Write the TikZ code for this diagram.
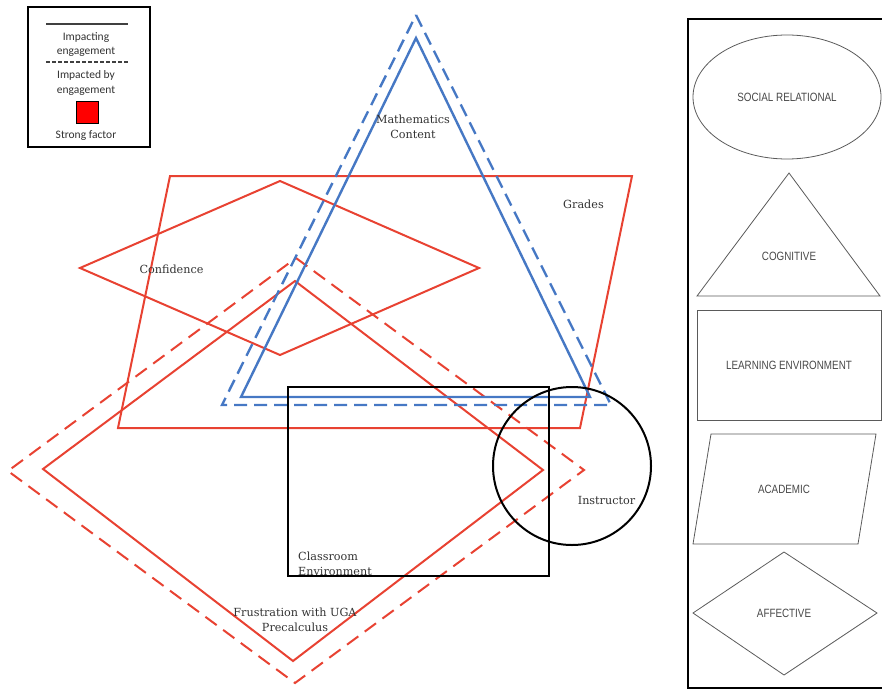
\documentclass[tikz,border=0pt]{standalone}
\usepackage{fontspec}
\setmainfont{DejaVu Serif}
\newfontfamily\legfont{Carlito}
\newfontfamily\panelfont[FakeStretch=0.82]{Liberation Sans}
\definecolor{fred}{RGB}{232,66,50}
\definecolor{fblue}{RGB}{70,120,196}
\definecolor{txtgray}{RGB}{50,50,50}
\definecolor{panelgray}{RGB}{90,90,90}
\tikzset{
  redsolid/.style={draw=fred, line width=2pt, line join=miter},
  reddash/.style={draw=fred, line width=2pt, dash pattern=on 14pt off 8pt},
  bluesolid/.style={draw=fblue, line width=2.4pt},
  bluedash/.style={draw=fblue, line width=2.4pt, dash pattern=on 13pt off 7pt},
  blacksolid/.style={draw=black, line width=2pt},
  lab/.style={text=txtgray, font=\fontsize{11.2}{15}\selectfont, align=center, inner sep=0pt},
  leg/.style={text=txtgray, font=\legfont\fontsize{11.5}{14.5}\selectfont, align=center, inner sep=0pt},
  pshape/.style={draw=panelgray, line width=0.8pt},
  ptext/.style={text=black!72, font=\panelfont\fontsize{12}{13}\selectfont, inner sep=0pt}
}
\begin{document}
\begin{tikzpicture}[x=1pt,y=-1pt]
\useasboundingbox (0,0) rectangle (882,690);
% Grades parallelogram
\draw[redsolid] (170,176) -- (632,176) -- (580,428) -- (118,428) -- cycle;
% Confidence diamond
\draw[redsolid] (80,268) -- (280,181) -- (479,268) -- (280,355) -- cycle;
% Frustration diamonds
\draw[redsolid] (295,281) -- (543,470) -- (293,661) -- (43,469) -- cycle;
\draw[reddash] (296,258) -- (584,470) -- (295,683) -- (8,471) -- cycle;
% Mathematics content triangles
\draw[bluesolid] (416,38) -- (590,397) -- (241,397) -- cycle;
\draw[bluedash] (416,15) -- (611,405) -- (222,405) -- cycle;
% Classroom environment
\draw[blacksolid] (288,387) rectangle (549,576);
% Instructor
\draw[blacksolid] (572,466) circle[radius=79];
% labels
\node[lab] (math) at (413,127) {Mathematics\\Content};
\node[lab] (grades) at (583.5,204) {Grades};
\node[lab] (conf) at (171.5,269) {Confidence};
\node[lab, align=left, anchor=west] (class) at (298,564) {Classroom\\Environment};
\node[lab] (frus) at (295,620) {Frustration with UGA\\Precalculus};
\node[lab] (instr) at (606.5,500) {Instructor};
% legend
\draw[black, line width=1.3pt] (28,7) rectangle (150,147);
\draw[black!75, line width=2pt] (46,24) -- (128,24);
\node[leg] (l1) at (86,44.5) {Impacting\\engagement};
\draw[black!75, line width=1.4pt, dash pattern=on 4pt off 2pt] (46,62) -- (128,62);
\node[leg] (l2) at (86,83) {Impacted by\\engagement};
\draw[black, fill=red, line width=1pt] (76,102) rectangle (98,123);
\node[leg] (l3) at (86,136) {Strong factor};
% right panel
\draw[black, line width=2.5pt] (688,19) rectangle (886,688);
\draw[pshape] (787,97) ellipse[x radius=94, y radius=62];
\node[ptext] (soc) at (787,97) {SOCIAL RELATIONAL};
\draw[pshape] (789,173) -- (880,296) -- (697,296) -- cycle;
\node[ptext] (cog) at (789,256) {COGNITIVE};
\draw[pshape] (697,310) rectangle (881,420);
\node[ptext] (learn) at (789,365) {LEARNING ENVIRONMENT};
\draw[pshape] (711,434) -- (876,434) -- (858,544) -- (693,544) -- cycle;
\node[ptext] (acad) at (784,489) {ACADEMIC};
\draw[pshape] (784,552) -- (877,613) -- (784,675) -- (693,613) -- cycle;
\node[ptext] (aff) at (784,613) {AFFECTIVE};
\end{tikzpicture}
\end{document}
